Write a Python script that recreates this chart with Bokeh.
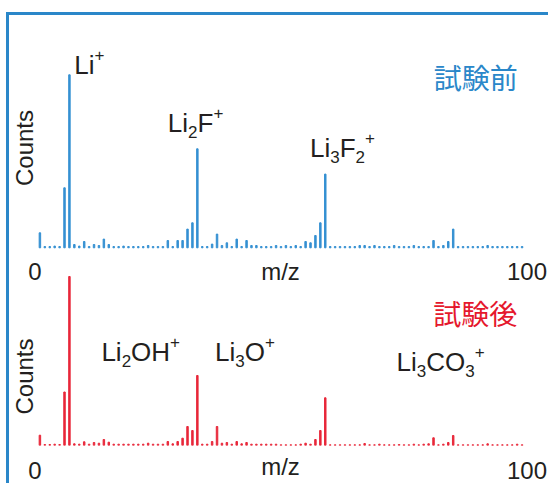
import numpy as np
from bokeh.plotting import figure
from bokeh.models import Range1d, Label, FixedTicker
from bokeh.embed import file_html
from bokeh.resources import INLINE

# ---------------- data ----------------
mz = list(range(1, 100))

before_counts = [
    15, 1.3, 1.3, 1.7, 1.3, 60, 173, 3.3, 1.7, 6.3,
    1.3, 3.3, 2.3, 8.7, 3.3, 1.3, 1.3, 1.7, 1.3, 1.3,
    1.3, 1.3, 2.3, 1.3, 1.3, 1.3, 7.3, 1.3, 7.3, 7.3,
    18.7, 25, 99, 1.3, 1.3, 3.7, 13.7, 2.3, 5, 1.3,
    8.7, 1.3, 7.3, 2.3, 2.3, 1.3, 1.3, 1.3, 2.3, 1.3,
    2.3, 1.3, 2.3, 1.3, 6.3, 5, 12.3, 25, 73.7, 1.3,
    1.3, 1.3, 1.3, 1.3, 1.3, 2.3, 2.3, 1.3, 2.3, 1.3,
    1.3, 1.3, 2.3, 1.3, 1.3, 1.3, 2.3, 1.3, 1.3, 1.3,
    7.3, 1.3, 2.3, 6.3, 18.7, 1.3, 1.3, 1.3, 1.3, 1.3,
    1.3, 2.3, 1.3, 1.3, 1.3, 1.3, 1.3, 1.3, 1.3,
]

after_counts = [
    10.3, 1.0, 1.0, 1.3, 1.0, 53.5, 169, 1.7, 1.3, 3.7,
    1.3, 3.0, 2.3, 6.0, 3.3, 1.3, 1.3, 1.3, 1.3, 1.3,
    1.3, 1.3, 2.3, 1.3, 1.3, 1.3, 4.0, 1.7, 4.0, 7.3,
    19, 15, 70, 1.3, 1.3, 4.0, 19, 2.3, 3.0, 1.3,
    4.0, 1.7, 3.0, 1.3, 1.3, 1.3, 1.3, 1.3, 1.3, 0.7,
    0.7, 0.7, 0.7, 1.3, 2.3, 1.3, 6.0, 15, 47.7, 0.7,
    0.7, 0.7, 0.7, 0.7, 0.7, 0.7, 2.0, 0.7, 0.7, 1.3,
    0.7, 0.7, 0.7, 1.0, 0.7, 0.7, 1.3, 0.7, 1.3, 1.7,
    7.7, 0.7, 1.3, 3.0, 10, 0.7, 0.7, 0.7, 0.7, 0.7,
    0.7, 1.7, 0.7, 0.7, 0.7, 0.7, 0.7, 1.3, 0.7,
]

tick_values = [0, 100]
x_label = "m/z"
y_label = "Counts"
title_before = "試験前"
title_after = "試験後"

# ion labels: (parts, anchor m/z, anchor counts); n = normal, b = subscript, p = superscript
before_ions = [
    ([("Li", "n"), ("+", "p")], 8.0, 174),
    ([("Li", "n"), ("2", "b"), ("F", "n"), ("+", "p")], 27.0, 115.6),
    ([("Li", "n"), ("3", "b"), ("F", "n"), ("2", "b"), ("+", "p")], 55.9, 90.6),
]
after_ions = [
    ([("Li", "n"), ("2", "b"), ("OH", "n"), ("+", "p")], 13.5, 84.3),
    ([("Li", "n"), ("3", "b"), ("O", "n"), ("+", "p")], 36.6, 84.3),
    ([("Li", "n"), ("3", "b"), ("CO", "n"), ("3", "b"), ("+", "p")], 73.5, 75),
]

# ---------------- style ----------------
BLUE = "#2a87c9"
BAR_BLUE = "#3590d2"
RED = "#e5182d"
BAR_RED = "#e8283a"
INK = "#231f20"
FONT = "Liberation Sans"
CJK = "Noto Sans CJK JP"
MAIN = 26
SMALL = 17
LIFT = 9  # screen px
ADV = {"L": .556, "i": .222, "F": .611, "O": .778, "H": .722, "C": .722,
       "2": .556, "3": .556, "+": .584}

p = figure(width=542, height=471, output_backend="svg", toolbar_location=None,
           x_range=Range1d(-5.18, 104.98), y_range=Range1d(0, 430),
           y_axis_location=None, min_border_left=0, min_border_right=0,
           min_border_top=0, min_border_bottom=41,
           styles={"margin-top": "12px", "margin-left": "6px",
                   "border-top": "3px solid " + BLUE, "border-left": "3px solid " + BLUE})
p.extra_y_ranges = {"blue": Range1d(-197.7, 232.3)}
p.outline_line_color = None
p.xgrid.visible = False
p.ygrid.visible = False
p.background_fill_color = "white"
p.border_fill_color = "white"

ax = p.xaxis[0]
ax.ticker = FixedTicker(ticks=tick_values)
ax.axis_line_color = None
ax.major_tick_line_color = None
ax.minor_tick_line_color = None
ax.major_tick_out = 0
ax.minor_tick_out = 0
ax.major_label_text_font = FONT
ax.major_label_text_font_size = "24px"
ax.major_label_text_color = INK
ax.major_label_standoff = 16
ax.axis_label = x_label
ax.axis_label_text_font = FONT
ax.axis_label_text_font_size = "24px"
ax.axis_label_text_font_style = "normal"
ax.axis_label_text_color = INK
ax.axis_label_standoff = -29

# bars
p.vbar(x=mz, top=before_counts, bottom=0, width=0.3, color=BAR_BLUE, y_range_name="blue")
p.vbar(x=mz, top=after_counts, bottom=0, width=0.3, color=BAR_RED)


def add_ion(parts, x, y, rng):
    off = 0.0
    for txt, kind in parts:
        size = MAIN if kind == "n" else SMALL
        dy = 0 if kind == "n" else (-9 if kind == "b" else 10)
        kw = {} if rng is None else {"y_range_name": rng}
        p.add_layout(Label(x=x, y=y, x_offset=off, y_offset=dy + LIFT, text=txt,
                           text_font=FONT, text_font_size=f"{size}px",
                           text_color=INK, text_baseline="alphabetic",
                           text_align="left", **kw))
        off += sum(ADV[c] for c in txt) * size


for parts, x, y in before_ions:
    add_ion(parts, x, y, "blue")
for parts, x, y in after_ions:
    add_ion(parts, x, y, None)

# panel titles
p.add_layout(Label(x=98.1, y=162.3, y_offset=LIFT, text=title_before, text_font=CJK,
                   text_font_size="28px", text_color=BLUE, text_align="right",
                   text_baseline="alphabetic", y_range_name="blue"))
p.add_layout(Label(x=98.0, y=123.5, y_offset=LIFT, text=title_after, text_font=CJK,
                   text_font_size="28px", text_color=RED, text_align="right",
                   text_baseline="alphabetic"))

# y labels
p.add_layout(Label(x=-2.1, y=99.8, text=y_label, angle=np.pi / 2, text_font=FONT,
                   text_font_size="24px", text_color=INK, text_align="center",
                   text_baseline="middle", y_range_name="blue"))
p.add_layout(Label(x=-2.1, y=69, text=y_label, angle=np.pi / 2, text_font=FONT,
                   text_font_size="24px", text_color=INK, text_align="center",
                   text_baseline="middle"))

# x tick labels of the upper panel
for t in tick_values:
    p.add_layout(Label(x=t, y=-32.2, y_offset=LIFT, text=str(t), text_font=FONT,
                       text_font_size="24px", text_color=INK, text_align="center",
                       text_baseline="alphabetic", y_range_name="blue"))
p.add_layout(Label(x=49.9, y=-32.2, y_offset=LIFT, text=x_label, text_font=FONT,
                   text_font_size="24px", text_color=INK, text_align="center",
                   text_baseline="alphabetic", y_range_name="blue"))

open("out.html", "w").write(file_html(p, INLINE))
